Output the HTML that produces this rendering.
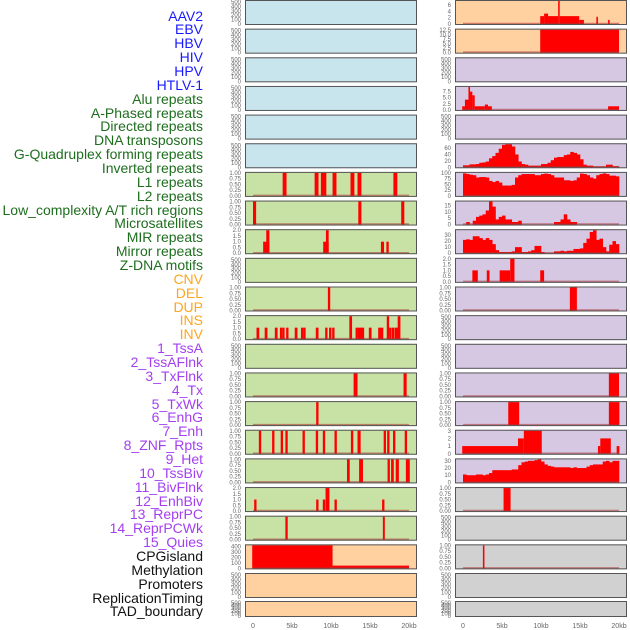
<!DOCTYPE html>
<html><head><meta charset="utf-8">
<style>
html,body{margin:0;padding:0;background:#fff;}
#wrap{position:relative;width:630px;height:630px;overflow:hidden;font-family:"Liberation Sans",sans-serif;}
.lab{position:absolute;right:427px;font-size:14px;line-height:14px;white-space:nowrap;}
svg{position:absolute;left:0;top:0;}
</style></head>
<body>
<div id="wrap">
<div id="labels"></div>
<svg id="chart" width="630" height="630"></svg>
</div>
<script>
// ---- labels ----
const labelNames = ["AAV2","EBV","HBV","HIV","HPV","HTLV-1","Alu repeats","A-Phased repeats","Directed repeats","DNA transposons","G-Quadruplex forming repeats","Inverted repeats","L1 repeats","L2 repeats","Low_complexity A/T rich regions","Microsatellites","MIR repeats","Mirror repeats","Z-DNA motifs","CNV","DEL","DUP","INS","INV","1_TssA","2_TssAFlnk","3_TxFlnk","4_Tx","5_TxWk","6_EnhG","7_Enh","8_ZNF_Rpts","9_Het","10_TssBiv","11_BivFlnk","12_EnhBiv","13_ReprPC","14_ReprPCWk","15_Quies","CPGisland","Methylation","Promoters","ReplicationTiming","TAD_boundary"];
const labelColors = ["#1a1aff","#1a1aff","#1a1aff","#1a1aff","#1a1aff","#1a1aff","#1e6e1e","#1e6e1e","#1e6e1e","#1e6e1e","#1e6e1e","#1e6e1e","#1e6e1e","#1e6e1e","#1e6e1e","#1e6e1e","#1e6e1e","#1e6e1e","#1e6e1e","#ffa520","#ffa520","#ffa520","#ffa520","#ffa520","#a33ff0","#a33ff0","#a33ff0","#a33ff0","#a33ff0","#a33ff0","#a33ff0","#a33ff0","#a33ff0","#a33ff0","#a33ff0","#a33ff0","#a33ff0","#a33ff0","#a33ff0","#111","#111","#111","#111","#111"];

// ---- tick label sets ----
const ticks500 = ["0","100","200","300","400","500"];
const ticks1 = ["0.00","0.25","0.50","0.75","1.00"];
const ticks2 = ["0.0","0.5","1.0","1.5","2.0"];
const ticks400 = ["0","100","200","300","400"];
const ticksEbv = ["0","2","4","6"];
const ticksHbv = ["0.0","2.5","5.0","7.5","10.0","12.5"];
const ticksHpv = ["0.0","2.5","5.0","7.5"];
const ticks60 = ["0","20","40","60"];
const ticks100 = ["0","25","50","75","100"];
const ticks15 = ["0","5","10","15"];
const ticks30 = ["0","10","20","30"];
const ticks3 = ["0","1","2","3"];

// ---- bar data [startKb, endKb, value] ----
const aluBars = [[3.8,4.3,1],[7.9,8.4,1],[8.7,9.4,1],[10.2,10.7,1],[12.5,13.0,1],[13.4,13.9,1],[18.0,18.5,1]];
const aphasedBars = [[0.0,0.4,1],[13.5,13.9,1],[19.0,19.4,1]];
const directedBars = [[1.3,2.1,1],[1.7,2.1,2],[9.0,9.7,1],[9.35,9.7,2],[16.4,16.8,1],[17.1,17.4,1]];
const gquadBars = [[9.6,9.9,1]];
const invertedBars = [[0.45,0.8,1],[1.5,1.85,1],[2.8,3.15,1],[3.45,3.75,1],[3.75,4.05,1],[4.25,4.55,1],[5.35,5.7,1],[6.15,6.45,1],[6.45,6.75,1],[8.05,8.4,1],[9.25,9.55,1],[9.75,10.05,1],[10.15,10.45,1],[12.35,12.7,2],[13.15,13.45,1],[13.45,13.75,1],[13.7,14.0,1],[13.95,14.25,1],[14.85,15.2,1],[16.05,16.35,1],[16.35,16.7,1],[17.15,17.45,2],[17.45,17.75,1],[17.8,18.1,1],[18.15,18.45,1],[18.4,18.6,1],[18.55,18.9,2]];
const lowcompBars = [[12.9,13.4,1],[19.3,19.7,1]];
const microBars = [[8.1,8.4,1]];
const mirBars = [[0.75,1.05,1],[2.45,2.75,1],[3.55,3.85,1],[4.15,4.45,1],[6.35,6.65,1],[8.05,8.35,1],[8.95,9.25,1],[10.45,10.75,1],[12.55,12.85,1],[13.4,13.8,1],[16.75,17.05,1],[17.2,17.5,1],[17.95,18.25,1],[19.45,19.75,1]];
const mirrorBars = [[12.05,12.4,1],[13.6,14.1,1],[17.25,17.55,1],[17.7,18.05,1],[18.3,18.7,1],[19.6,20.1,1]];
const zdnaBars = [[0.15,0.45,1],[8.1,8.4,1],[8.95,9.25,1],[9.3,9.8,2],[10.45,10.75,1],[16.55,16.85,1]];
const cnvBars = [[4.15,4.45,1],[16.65,16.9,1]];
const delBars = [[-0.1,10.2,420],[10.2,20.0,50]];
const insBars = [[9.9,10.4,2.5],[10.4,10.9,3.3],[10.9,12.2,2.5],[12.2,12.4,7.4],[12.4,14.9,2.5],[14.9,15.5,1.3],[17.1,17.3,2.3],[18.6,18.8,1.3]];
const invBars = [[9.9,20.0,12.7]];
const txFlnkBars = [[-0.1,0.25,1.5],[0.25,0.7,4.2],[0.7,0.9,9.4],[0.9,1.2,7.5],[1.2,1.5,6],[1.5,2.8,1.5],[2.8,3.2,2.2],[3.2,3.7,1.5],[18.6,20.0,1.5]];
const het9Bars = [[1.2,1.9,1],[3.05,3.4,1],[4.7,6.05,1],[6.05,6.6,2],[9.9,10.4,1]];
const tssBivBars = [[13.7,14.6,1]];
const reprpcBars = [[18.7,20.0,1]];
const reprpcwkBars = [[5.8,7.2,1],[18.7,20.05,1]];
const quiesBars = [[-0.1,7.05,1],[7.05,7.8,2],[7.8,10.1,3],[17.3,17.6,1],[17.6,18.95,2],[19.7,20.05,1]];
const cpgBars = [[5.2,6.1,1]];
const promoterBars = [[2.55,2.75,1]];

// ---- binned series (equal bins over 0..20kb) ----
const enhgSeries = [6,6,9,9,10,14,15,18,28,35,45,58,70,72,72,65,40,18,10,8,5,5,5,5,10,10,14,22,30,32,32,38,40,48,45,40,25,8,5,5,2,2,2,2,8,8,3,3];
const enhSeries = [98,95,92,90,80,82,82,80,65,60,65,58,45,45,45,48,80,90,95,95,95,95,90,90,95,97,95,90,80,80,80,68,68,65,68,80,97,95,90,80,75,90,95,98,95,88,88,85];
const znfSeries = [0,2,0,3,6,7,8,11,18,14,4,6,7,4,4,2,2,3,0,0,0,0,0,0,0,0,0,0,2,2,4,8,4,2,2,0,0,0,0,0,0,0,0,0,0,0,0,0];
const tssaflnkSeries = [22,23,22,28,28,25,22,25,22,15,5,2,2,2,2,3,10,10,2,2,3,5,12,12,2,0,0,0,3,3,4,3,4,4,7,7,8,17,24,35,38,22,24,10,3,14,20,15];
const bivflnkSeries = [11,10,10,10,11,11,10,11,13,17,17,17,17,17,17,18,18,24,28,29,30,30,31,32,29,25,23,22,21,21,21,21,21,20,21,20,20,20,22,24,25,25,25,29,30,28,30,30];

const C = {blue:"#c8e4ec", green:"#c8e1a5", orange:"#ffd1a1", purple:"#d6c7e2", gray:"#d1d1d1"};
// panels: [col,row,bg,ticks,ymax,bars,series,name]
const panels = [
 [0,0,"blue",ticks500,520,null,null,"aav2"],[0,1,"blue",ticks500,520,null,null,"ebv"],[0,2,"blue",ticks500,520,null,null,"hbv"],
 [0,3,"blue",ticks500,520,null,null,"hiv"],[0,4,"blue",ticks500,520,null,null,"hpv"],[0,5,"blue",ticks500,520,null,null,"htlv1"],
 [0,6,"green",ticks1,1,aluBars,null,"alu"],[0,7,"green",ticks1,1,aphasedBars,null,"aphased"],[0,8,"green",ticks2,2,directedBars,null,"directed"],
 [0,9,"green",ticks500,520,null,null,"dna-transposons"],[0,10,"green",ticks1,1,gquadBars,null,"gquad"],[0,11,"green",ticks2,2,invertedBars,null,"inverted"],
 [0,12,"green",ticks500,520,null,null,"l1"],[0,13,"green",ticks1,1,lowcompBars,null,"low-complexity"],[0,14,"green",ticks1,1,microBars,null,"microsatellites"],
 [0,15,"green",ticks1,1,mirBars,null,"mir"],[0,16,"green",ticks1,1,mirrorBars,null,"mirror"],[0,17,"green",ticks2,2,zdnaBars,null,"zdna"],
 [0,18,"green",ticks1,1,cnvBars,null,"cnv"],[0,19,"orange",ticks400,420,delBars,null,"del"],[0,20,"orange",ticks500,520,null,null,"dup"],
 [0,21,"orange",ticks500,520,null,null,"extra"],
 [1,0,"orange",ticksEbv,7.3,insBars,null,"ins"],[1,1,"orange",ticksHbv,12.7,invBars,null,"inv"],[1,2,"purple",ticks500,520,null,null,"tssa"],
 [1,3,"purple",ticksHpv,9.4,txFlnkBars,null,"txflnk"],[1,4,"purple",ticks500,520,null,null,"tx"],[1,5,"purple",ticks60,72,null,enhgSeries,"enhg"],
 [1,6,"purple",ticks100,100,null,enhSeries,"enh"],[1,7,"purple",ticks15,18,null,znfSeries,"znf"],[1,8,"purple",ticks30,38,null,tssaflnkSeries,"tssaflnk"],
 [1,9,"purple",ticks2,2,het9Bars,null,"het"],[1,10,"purple",ticks1,1,tssBivBars,null,"tssbiv"],[1,11,"purple",ticks500,520,null,null,"bivflnk"],
 [1,12,"purple",ticks500,520,null,null,"enhbiv"],[1,13,"purple",ticks1,1,reprpcBars,null,"reprpc"],[1,14,"purple",ticks1,1,reprpcwkBars,null,"reprpcwk"],
 [1,15,"purple",ticks3,3,quiesBars,null,"quies"],[1,16,"purple",ticks30,32,null,bivflnkSeries,"biv-series"],[1,17,"gray",ticks1,1,cpgBars,null,"cpgisland"],
 [1,18,"gray",ticks500,520,null,null,"methylation"],[1,19,"gray",ticks1,1,promoterBars,null,"promoters"],[1,20,"gray",ticks500,520,null,null,"replication-timing"],
 [1,21,"gray",ticks500,520,null,null,"tad-boundary"]
];
const xTickLabels = ["0","5kb","10kb","15kb","20kb"];
const xTickValues = [0,5,10,15,20];

// ---- render labels ----
const labDiv = document.getElementById('labels');
labelNames.forEach((t,i)=>{
  const d = document.createElement('div');
  d.className='lab';
  
  
  d.style.top = (15 + i*13.86 - 6.5)+'px';
  d.style.color = labelColors[i];
  d.textContent = t;
  labDiv.appendChild(d);
});

// ---- render panels ----
const NS='http://www.w3.org/2000/svg';
const svg=document.getElementById('chart');
function mk(tag,attrs,parent){const e=document.createElementNS(NS,tag);for(const k in attrs)e.setAttribute(k,attrs[k]);(parent||svg).appendChild(e);return e;}
const colLeft=[245,455];
const W=172;
function xScale(col,kb){return colLeft[col]+8+kb*7.8;}
panels.forEach(p=>{
  const [col,row,bg,ticks,ymax,bars,series,name]=p;
  const top = row===21?601:row*28.65;
  const h = row===21?16:25;
  const g=mk('g',{});
  
  
  const x0=colLeft[col];
  mk('rect',{x:x0,y:top,width:W,height:h,fill:C[bg]},g);
  const yb=top+h-1, yt=top+1;
  const yScale=v=>yb-(v/ymax)*(yb-yt);
  if(bars){
    bars.forEach(b=>{
      const r=mk('rect',{x:xScale(col,b[0]),y:yScale(Math.min(b[2],ymax)),width:Math.max(1,xScale(col,b[1])-xScale(col,b[0])),height:yb-yScale(Math.min(b[2],ymax)),fill:'#ff0000'},g);
      
      
    });
  }
  if(series){
    const n=series.length, bw=20/n;
    series.forEach((v,i)=>{
      const vv=Math.min(v,ymax);
      if(vv<=0) return;
      const r=mk('rect',{x:xScale(col,i*bw),y:yScale(vv),width:xScale(col,(i+1)*bw)-xScale(col,i*bw)+0.3,height:yb-yScale(vv),fill:'#ff0000'},g);
      
      
    });
  }
  if(bars||series){
    mk('line',{x1:xScale(col,0),x2:xScale(col,20),y1:yb-0.5,y2:yb-0.5,stroke:'rgba(170,50,50,0.55)','stroke-width':1.5},g);
  }
  mk('rect',{x:x0+0.5,y:top+0.5,width:W-1,height:h-1,fill:'none',stroke:'#555','stroke-width':1},g);
  const tmax=parseFloat(ticks[ticks.length-1]);
  ticks.forEach(t=>{
    const v=parseFloat(t);
    const yy=(ymax===520? yb-(v/tmax)*(yb-yt-1): yScale(v));
    const tx=mk('text',{x:x0-4,y:yy+2,'text-anchor':'end','font-size':6,fill:'#666','font-family':'Liberation Sans, sans-serif'},g);
    tx.textContent=t;
    
    
  });
});
// x axes
[0,1].forEach(col=>{
  xTickValues.forEach((v,i)=>{
    const t=mk('text',{x:xScale(col,v),y:628,'text-anchor':'middle','font-size':7,fill:'#666','font-family':'Liberation Sans, sans-serif'});
    t.textContent=xTickLabels[i];
    
    
  });
});
</script>
</body></html>
